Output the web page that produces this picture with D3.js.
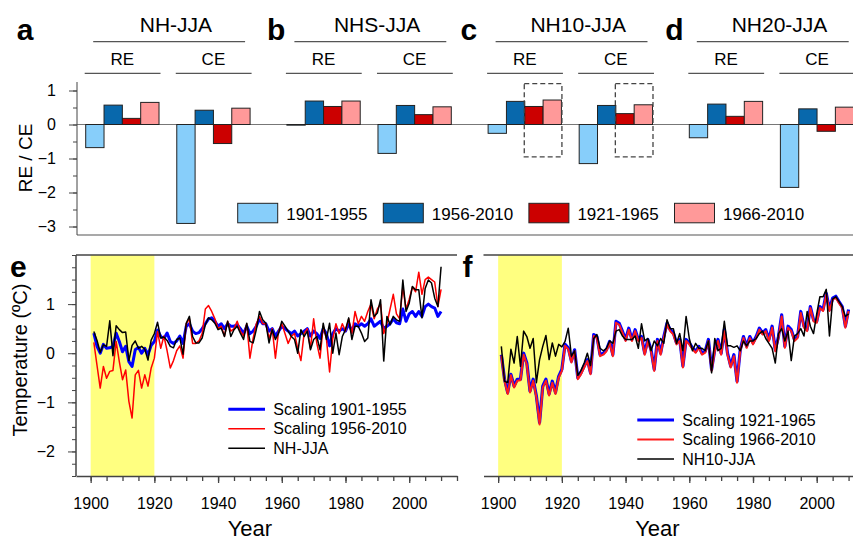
<!DOCTYPE html>
<html>
<head>
<meta charset="utf-8">
<script src="https://cdn.jsdelivr.net/npm/d3@7"></script>
<style>
body { margin: 0; background: #fff; }
svg { display: block; font-family: "Liberation Sans", Arial, sans-serif; }
</style>
</head>
<body>
<svg id="chart" width="853" height="541"></svg>
<script>
// ---- data: skill scores (top) ----
const regions = ['NH-JJA', 'NHS-JJA', 'NH10-JJA', 'NH20-JJA'];
const letters = ['a', 'b', 'c', 'd'];
const metrics = ['RE', 'CE'];
const periods = ['1901-1955', '1956-2010', '1921-1965', '1966-2010'];
const periodColors = ['#87cefa', '#0868ac', '#cc0000', '#ff9999'];
const reScores = [
  [-0.68, 0.57, 0.18, 0.65],
  [-0.02, 0.69, 0.53, 0.69],
  [-0.26, 0.68, 0.53, 0.72],
  [-0.39, 0.60, 0.24, 0.68]
];
const ceScores = [
  [-2.91, 0.42, -0.56, 0.48],
  [-0.85, 0.56, 0.29, 0.52],
  [-1.15, 0.56, 0.32, 0.58],
  [-1.85, 0.46, -0.20, 0.51]
];
const scoreTicks = [-3, -2, -1, 0, 1];

// ---- data: temperature series (bottom) ----
const years = d3.range(1901, 2011);
const nhObs = [
  0.44, 0.26, 0.02, 0.17, 0.14, 0.66, -0.05, 0.56, 0.48, 0.42,
  0.43, -0.15, 0.16, 0.25, 0.10, 0.14, 0.08, -0.14, 0.27, 0.40,
  0.63, 0.31, 0.33, 0.26, 0.14, 0.11, 0.28, 0.31, -0.02, 0.61,
  0.75, 0.34, 0.21, 0.21, 0.31, 0.58, 0.72, 0.68, 0.61, 0.48,
  0.51, 0.34, 0.65, 0.34, 0.48, 0.55, 0.41, 0.28, 0.61, 0.24,
  0.21, 0.48, 0.85, 0.68, 0.61, 0.21, 0.48, 0.28, 0.41, 0.65,
  0.55, 0.45, 0.34, 0.28, 0.00, 0.48, 0.34, 0.45, 0.07, 0.28,
  0.34, 0.07, 0.61, 0.28, 0.61, 0.00, 0.41, -0.03, 0.34, 0.48,
  0.72, 0.28, 0.55, 0.55, 0.41, 0.24, 0.31, 1.09, 0.75, 0.82,
  1.09, -0.16, 0.75, 0.58, 0.75, 0.68, 0.65, 1.49, 0.85, 1.02,
  1.36, 1.29, 1.29, 0.72, 1.32, 1.49, 1.43, 1.12, 0.95, 1.76
];
const nhScaleEarly = [
  0.41, 0.14, 0.00, 0.18, 0.10, 0.11, 0.14, 0.41, 0.24, 0.03,
  0.14, -0.17, -0.27, 0.07, 0.12, 0.00, 0.10, -0.03, 0.16, 0.24,
  0.47, 0.34, 0.30, 0.41, 0.24, 0.20, 0.25, 0.35, 0.20, 0.55,
  0.60, 0.45, 0.40, 0.42, 0.50, 0.60, 0.70, 0.72, 0.65, 0.55,
  0.60, 0.50, 0.60, 0.55, 0.55, 0.58, 0.50, 0.40, 0.55, 0.40,
  0.45, 0.55, 0.70, 0.60, 0.60, 0.45, 0.50, 0.35, 0.45, 0.55,
  0.50, 0.45, 0.40, 0.45, 0.35, 0.40, 0.45, 0.50, 0.35, 0.45,
  0.40, 0.30, 0.50, 0.40, 0.15, 0.40, 0.50, 0.45, 0.50, 0.45,
  0.60, 0.45, 0.60, 0.55, 0.60, 0.55, 0.60, 0.70, 0.55, 0.60,
  0.65, 0.50, 0.55, 0.60, 0.70, 0.62, 0.60, 0.90, 0.65, 0.80,
  0.85, 0.75, 0.85, 0.75, 0.95, 1.00, 0.95, 0.92, 0.75, 0.85
];
const nhScaleLate = [
  0.22, -0.25, -0.71, -0.27, -0.51, -0.37, -0.35, 0.24, -0.17, -0.54,
  -0.34, -0.98, -1.32, -0.44, -0.35, -0.71, -0.44, -0.67, -0.30, -0.10,
  0.44, 0.10, 0.35, 0.05, -0.30, -0.15, 0.05, 0.15, -0.10, 0.60,
  0.70, 0.20, 0.20, 0.25, 0.40, 0.90, 0.97, 0.85, 0.70, 0.50,
  0.55, 0.35, 0.65, 0.45, 0.50, 0.65, 0.45, 0.35, 0.60, -0.10,
  0.30, 0.60, 0.75, 0.60, 0.60, 0.30, 0.50, -0.10, 0.45, 0.60,
  0.40, 0.20, 0.35, 0.40, 0.10, -0.15, 0.40, 0.50, 0.10, 0.70,
  0.20, -0.10, 0.55, 0.30, -0.38, 0.30, 0.60, 0.40, 0.60, 0.45,
  0.70, 0.40, 0.85, 0.60, 0.75, 0.65, 0.85, 1.00, 0.70, 0.90,
  1.00, 0.40, 0.60, 0.90, 1.20, 0.80, 0.70, 1.35, 0.90, 1.10,
  1.35, 1.25, 1.65, 1.20, 1.50, 1.55, 1.50, 1.45, 0.95, 1.30
];
const nh10Obs = [
  0.14, -0.57, -0.60, 0.08, -0.20, 0.34, -0.27, 0.45, 0.34, 0.10,
  0.30, -0.60, -0.13, 0.14, 0.36, -0.13, 0.21, -0.06, 0.18, 0.13,
  0.24, 0.51, -0.06, 0.05, -0.45, -0.35, -0.20, 0.00, -0.25, 0.30,
  0.38, 0.10, 0.05, 0.10, 0.25, 0.20, 0.45, 0.48, 0.35, 0.28,
  0.28, 0.28, 0.35, 0.10, 0.60, 0.25, 0.30, 0.05, 0.25, 0.15,
  0.30, 0.20, 0.68, 0.50, 0.50, 0.20, 0.40, 0.05, 0.75, 0.30,
  0.05, 0.20, 0.10, 0.10, 0.05, 0.25, -0.40, 0.30, 0.05, 0.10,
  0.65, 0.15, 0.15, 0.12, 0.15, 0.05, 0.25, 0.15, 0.25, 0.25,
  0.30, 0.40, 0.45, 0.30, 0.20, 0.10, -0.20, 0.40, 0.50, 0.25,
  0.45, -0.15, 0.35, 0.40, 0.50, 0.35, 0.85, 0.55, 0.40, 0.80,
  1.15, 1.15, 1.30, 0.35, 1.10, 1.15, 1.05, 0.95, 0.75, 0.80
];
const nh10ScaleEarly = [
  -0.03, -0.53, -0.80, -0.43, -0.67, -0.53, -0.53, 0.00, -0.20, -0.77,
  -0.53, -0.87, -1.41, -0.67, -0.53, -0.83, -0.57, -0.80, -0.47, -0.33,
  0.18, 0.11, -0.16, 0.07, -0.50, -0.40, -0.26, -0.13, -0.40, 0.38,
  0.34, -0.03, 0.00, 0.07, 0.24, -0.03, 0.65, 0.61, 0.45, 0.28,
  0.51, 0.28, 0.48, 0.28, 0.34, 0.00, 0.28, 0.07, -0.33, 0.28,
  0.00, 0.34, 0.61, 0.48, 0.41, 0.21, 0.28, -0.26, 0.28, 0.21,
  0.11, 0.04, 0.14, 0.00, 0.04, 0.28, -0.33, 0.07, 0.28, 0.00,
  0.48, 0.00, -0.26, -0.03, -0.57, 0.07, 0.34, 0.14, 0.34, 0.21,
  0.34, 0.51, 0.41, 0.48, 0.28, 0.55, 0.07, 0.34, 0.78, 0.14,
  0.55, 0.48, 0.28, 0.34, 0.85, 0.55, 0.48, 0.95, 0.68, 0.65,
  0.95, 0.89, 1.22, 0.89, 1.12, 1.16, 1.05, 0.95, 0.55, 0.89
];
const nh10ScaleLate = [
  -0.05, -0.56, -0.83, -0.45, -0.70, -0.56, -0.55, -0.03, -0.23, -0.80,
  -0.56, -0.90, -1.45, -0.70, -0.56, -0.86, -0.60, -0.83, -0.50, -0.36,
  0.15, 0.08, -0.19, 0.04, -0.53, -0.43, -0.29, -0.16, -0.43, 0.35,
  0.31, -0.06, -0.03, 0.04, 0.21, -0.06, 0.62, 0.58, 0.42, 0.25,
  0.48, 0.25, 0.45, 0.25, 0.31, -0.03, 0.25, 0.04, -0.36, 0.25,
  -0.03, 0.31, 0.58, 0.45, 0.38, 0.18, 0.25, -0.29, 0.25, 0.18,
  0.08, 0.01, 0.11, -0.03, 0.01, 0.25, -0.36, 0.04, 0.25, -0.03,
  0.45, -0.03, -0.29, -0.06, -0.60, 0.04, 0.31, 0.11, 0.31, 0.18,
  0.31, 0.48, 0.38, 0.45, 0.25, 0.52, 0.04, 0.31, 0.75, 0.11,
  0.52, 0.45, 0.25, 0.31, 0.82, 0.52, 0.45, 0.92, 0.65, 0.62,
  0.92, 0.86, 1.19, 0.86, 1.09, 1.13, 1.02, 0.92, 0.52, 0.86
];
const yearTicks = [1900, 1920, 1940, 1960, 1980, 2000];
const tempTicks = [-2, -1, 0, 1];

const svg = d3.select('#chart');
const fontFamily = '"Liberation Sans", Arial, sans-serif';

// ================= top: bar panels a-d =================
const yBar = d3.scaleLinear().domain([-3.25, 1.25]).range([235, 82]);
const panelX = d3.scaleBand().domain(regions).range([85.7, 853.7]).paddingInner(0.183).paddingOuter(0);
const metricX = d3.scaleBand().domain(metrics).range([0, panelX.bandwidth()]).paddingInner(0.195).paddingOuter(0);
const periodX = d3.scaleBand().domain(periods).range([0, metricX.bandwidth()]);
const letterOffsets = [-69, -20, -27.5, -24];

// zero line and baseline
svg.append('line').attr('x1', 77).attr('x2', 845).attr('y1', yBar(0)).attr('y2', yBar(0))
  .attr('stroke', '#777').attr('stroke-width', 1);
svg.append('line').attr('x1', 77).attr('x2', 853).attr('y1', 235).attr('y2', 235)
  .attr('stroke', '#555').attr('stroke-width', 1.2);

// y axis (minor then major)
svg.append('g').attr('transform', 'translate(77,0)')
  .call(d3.axisLeft(yBar).tickValues(d3.range(-3, 1.01, 0.5)).tickSize(4).tickSizeOuter(0).tickFormat(''))
  .call(g => g.select('.domain').remove())
  .call(g => g.selectAll('line').attr('stroke', '#444'));
svg.append('g').attr('transform', 'translate(77,0)')
  .call(d3.axisLeft(yBar).tickValues(scoreTicks).tickSize(8).tickSizeOuter(0).tickPadding(13).tickFormat(d3.format('d')))
  .call(g => g.select('.domain').attr('stroke', '#444').attr('d', 'M0,82V235'))
  .call(g => g.selectAll('line').attr('stroke', '#444'))
  .call(g => g.selectAll('text').attr('font-size', 16).attr('fill', '#000').attr('font-family', fontFamily));

svg.append('text').attr('transform', 'translate(32,158) rotate(-90)')
  .attr('text-anchor', 'middle').attr('font-size', 19).text('RE / CE');

regions.forEach((r, i) => {
  const px = panelX(r);
  const pw = panelX.bandwidth();
  const g = svg.append('g');

  g.append('text').attr('x', px + letterOffsets[i]).attr('y', 40)
    .attr('font-size', 30).attr('font-weight', 'bold').text(letters[i]);
  g.append('text').attr('x', px + pw / 2 + 8).attr('y', 32)
    .attr('text-anchor', 'middle').attr('font-size', 21).text(r);
  g.append('line').attr('x1', px + 7.5).attr('x2', px + pw - 5).attr('y1', 41.7).attr('y2', 41.7)
    .attr('stroke', '#555').attr('stroke-width', 1.3);

  metrics.forEach(m => {
    const mx = px + metricX(m);
    const vals = m === 'RE' ? reScores[i] : ceScores[i];
    g.append('text').attr('x', mx + metricX.bandwidth() / 2).attr('y', 65)
      .attr('text-anchor', 'middle').attr('font-size', 17).text(m);
    g.append('line').attr('x1', mx - 1).attr('x2', mx + metricX.bandwidth() + 1.5)
      .attr('y1', 73.3).attr('y2', 73.3).attr('stroke', '#555').attr('stroke-width', 1.3);

    g.selectAll('rect.bar-' + m)
      .data(periods.map((p, k) => ({ p, v: vals[k], c: periodColors[k] })))
      .enter().append('rect')
      .attr('x', d => mx + periodX(d.p))
      .attr('y', d => yBar(Math.max(0, d.v)))
      .attr('width', periodX.bandwidth())
      .attr('height', d => Math.abs(yBar(d.v) - yBar(0)))
      .attr('fill', d => d.c)
      .attr('stroke', '#222').attr('stroke-width', 1);

    if (r === 'NH10-JJA') {
      g.append('rect')
        .attr('x', mx + periodX('1921-1965') - 0.5)
        .attr('y', yBar(1.2))
        .attr('width', periodX.bandwidth() * 2 + 1)
        .attr('height', yBar(-0.95) - yBar(1.2))
        .attr('fill', 'none').attr('stroke', '#444').attr('stroke-width', 1.3)
        .attr('stroke-dasharray', '5,3');
    }
  });
});

// legend for bars
const barLegend = svg.append('g').attr('transform', 'translate(237.7,203.3)');
periods.forEach((p, k) => {
  const lg = barLegend.append('g').attr('transform', `translate(${k * 145.6},0)`);
  lg.append('rect').attr('width', 40).attr('height', 19.5)
    .attr('fill', periodColors[k]).attr('stroke', '#222').attr('stroke-width', 1);
  lg.append('text').attr('x', 48.5).attr('y', 16.5).attr('font-size', 17).text(p);
});

// ================= bottom: time series e, f =================
const yT = d3.scaleLinear().domain([-2.5, 2]).range([476, 255]);
const xE = d3.scaleLinear().domain([1895.4, 2015]).range([76, 457]);
const xF = d3.scaleLinear().domain([1895.4, 2015]).range([483.5, 864.5]);

// series listed in legend order; drawn in reverse so the first ends up at the bottom
function drawPanel(x, series, legendX, legendY, letter, showY) {
  const g = svg.append('g');
  const [x0, x1] = x.range();

  g.append('rect').attr('x', x(1900)).attr('y', 255)
    .attr('width', x(1920) - x(1900)).attr('height', 476 - 255).attr('fill', '#ffff80');

  g.append('line').attr('x1', x0).attr('x2', Math.min(x1, 853)).attr('y1', 255).attr('y2', 255)
    .attr('stroke', '#444').attr('stroke-width', 1.5);

  series.forEach(s => {
    g.append('path')
      .datum(years.map((yr, i) => ({ yr, v: s.values[i] })))
      .attr('fill', 'none').attr('stroke', s.color).attr('stroke-width', s.width)
      .attr('stroke-linejoin', 'round')
      .attr('d', d3.line().x(d => x(d.yr)).y(d => yT(d.v)));
  });

  // x axis
  g.append('g').attr('transform', 'translate(0,476)')
    .call(d3.axisBottom(x).tickValues(d3.range(1900, 2016, 5)).tickSize(5).tickSizeOuter(0).tickFormat(''))
    .call(a => a.select('.domain').remove())
    .call(a => a.selectAll('line').attr('stroke', '#444').attr('stroke-width', 1.3));
  g.append('g').attr('transform', 'translate(0,476)')
    .call(d3.axisBottom(x).tickValues(yearTicks).tickSize(7).tickSizeOuter(0).tickPadding(15).tickFormat(d3.format('d')))
    .call(a => a.select('.domain').attr('stroke', '#444').attr('stroke-width', 1.5))
    .call(a => a.selectAll('line').attr('stroke', '#444').attr('stroke-width', 1.3))
    .call(a => a.selectAll('text').attr('font-size', 16).attr('fill', '#000').attr('font-family', fontFamily));

  g.append('text').attr('x', x(1950)).attr('y', 536).attr('text-anchor', 'middle')
    .attr('font-size', 22).text('Year');

  if (showY) {
    g.append('g').attr('transform', `translate(${x0},0)`)
      .call(d3.axisLeft(yT).tickValues(d3.range(-2.5, 2.01, 0.25)).tickSize(4).tickSizeOuter(0).tickFormat(''))
      .call(a => a.select('.domain').remove())
      .call(a => a.selectAll('line').attr('stroke', '#444'));
    g.append('g').attr('transform', `translate(${x0},0)`)
      .call(d3.axisLeft(yT).tickValues(tempTicks).tickSize(8).tickSizeOuter(0).tickPadding(13).tickFormat(d3.format('d')))
      .call(a => a.select('.domain').attr('stroke', '#444').attr('stroke-width', 1.5).attr('d', 'M0,255V476'))
      .call(a => a.selectAll('line').attr('stroke', '#444'))
      .call(a => a.selectAll('text').attr('font-size', 16).attr('fill', '#000').attr('font-family', fontFamily));
  }

  g.append('text').attr('x', x0 + letter.dx).attr('y', 277)
    .attr('font-size', 30).attr('font-weight', 'bold').text(letter.t);

  // legend
  series.forEach((s, k) => {
    const ly = legendY + k * 19.5;
    g.append('line').attr('x1', legendX).attr('x2', legendX + 36.7).attr('y1', ly).attr('y2', ly)
      .attr('stroke', s.color).attr('stroke-width', s.width);
    g.append('text').attr('x', legendX + 45).attr('y', ly + 5.5).attr('font-size', 16).text(s.name);
  });
}

drawPanel(xE, [
  { name: 'Scaling 1901-1955', values: nhScaleEarly, color: '#0000ff', width: 3 },
  { name: 'Scaling 1956-2010', values: nhScaleLate, color: '#ff0000', width: 1.5 },
  { name: 'NH-JJA', values: nhObs, color: '#000', width: 1.5 }
], 228.3, 409.3, { t: 'e', dx: -66 }, true);

drawPanel(xF, [
  { name: 'Scaling 1921-1965', values: nh10ScaleEarly, color: '#0000ff', width: 3.2 },
  { name: 'Scaling 1966-2010', values: nh10ScaleLate, color: '#ff1a1a', width: 2 },
  { name: 'NH10-JJA', values: nh10Obs, color: '#000', width: 1.5 }
], 637.3, 420, { t: 'f', dx: -21 }, false);

svg.append('text').attr('transform', 'translate(27,360) rotate(-90)')
  .attr('text-anchor', 'middle').attr('font-size', 20).text('Temperature (ºC)');
</script>
</body>
</html>
